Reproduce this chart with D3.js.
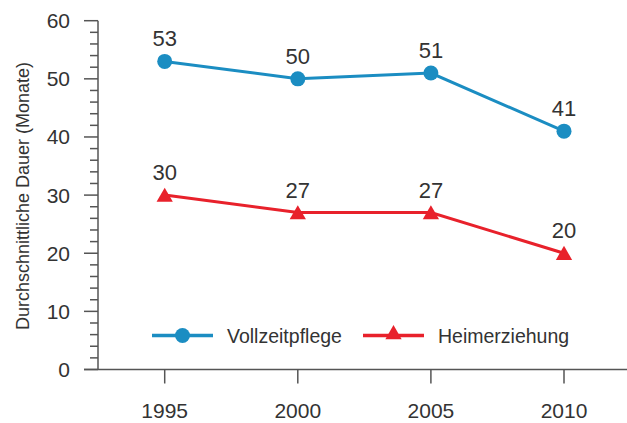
<!DOCTYPE html>
<html><head><meta charset="utf-8">
<script src="https://cdn.jsdelivr.net/npm/d3@7"></script>
<style>body{margin:0;background:#fff}svg{display:block}</style>
</head><body>
<svg id="c" width="627" height="423"></svg>
<script>
const years = [1995, 2000, 2005, 2010];
const vollzeitpflege = [53, 50, 51, 41];
const heimerziehung = [30, 27, 27, 20];
const yTicks = [0, 10, 20, 30, 40, 50, 60];
const seriesNames = ["Vollzeitpflege", "Heimerziehung"];
const colors = ["#1b8dc2", "#e8212b"];

const svg = d3.select("#c");
const font = "Liberation Sans, Arial, sans-serif";
const txt = "#333";
const axisCol = "#555";

const x = d3.scaleLinear().domain([1995, 2010]).range([164.7, 564]);
const y = d3.scaleLinear().domain([0, 60]).range([369.5, 20.7]);

// y axis
const yAx = svg.append("g").attr("transform", "translate(98,0)");
yAx.append("line").attr("x1", 0).attr("x2", 0).attr("y1", y(60)).attr("y2", y(0)).attr("stroke", axisCol).attr("stroke-width", 1.5);
d3.range(0, 61, 2).forEach(v => {
  const major = v % 10 === 0;
  yAx.append("line").attr("x1", major ? -14 : -8).attr("x2", 0).attr("y1", y(v)).attr("y2", y(v)).attr("stroke", axisCol).attr("stroke-width", 1.5);
});
yTicks.forEach(v => {
  yAx.append("text").attr("x", -28).attr("y", y(v) + 7.5).attr("text-anchor", "end")
    .attr("font-family", font).attr("font-size", 21).attr("fill", txt).text(v);
});

// x axis
svg.append("line").attr("x1", 84).attr("x2", 627).attr("y1", y(0)).attr("y2", y(0)).attr("stroke", axisCol).attr("stroke-width", 1.5);
years.forEach(yr => {
  svg.append("line").attr("x1", x(yr)).attr("x2", x(yr)).attr("y1", y(0)).attr("y2", y(0) + 14).attr("stroke", axisCol).attr("stroke-width", 1.5);
  svg.append("text").attr("x", x(yr)).attr("y", 418).attr("text-anchor", "middle")
    .attr("font-family", font).attr("font-size", 21).attr("fill", txt).text(yr);
});

// y title
svg.append("text").attr("transform", "translate(29,196) rotate(-90)").attr("text-anchor", "middle")
  .attr("font-family", font).attr("font-size", 18).attr("fill", txt).text("Durchschnittliche Dauer (Monate)");

const line = d3.line().x(d => x(d[0])).y(d => y(d[1]));
const tri = d3.symbol().type(d3.symbolTriangle).size(115);

[vollzeitpflege, heimerziehung].forEach((vals, i) => {
  const pts = years.map((yr, j) => [yr, vals[j]]);
  svg.append("path").attr("d", line(pts)).attr("fill", "none").attr("stroke", colors[i]).attr("stroke-width", 3);
  pts.forEach(p => {
    if (i === 0) {
      svg.append("circle").attr("cx", x(p[0])).attr("cy", y(p[1])).attr("r", 7.5).attr("fill", colors[i]);
    } else {
      svg.append("path").attr("d", tri()).attr("transform", `translate(${x(p[0])},${y(p[1]) + 2})`).attr("fill", colors[i]);
    }
    svg.append("text").attr("x", x(p[0])).attr("y", y(p[1]) - 15).attr("text-anchor", "middle")
      .attr("font-family", font).attr("font-size", 22).attr("fill", txt).text(p[1]);
  });
});

// legend
const legX = [152, 363];
seriesNames.forEach((n, i) => {
  const g = svg.append("g").attr("transform", `translate(${legX[i]},335.5)`);
  g.append("line").attr("x1", 0).attr("x2", 61).attr("y1", 0).attr("y2", 0).attr("stroke", colors[i]).attr("stroke-width", 3.5);
  if (i === 0) g.append("circle").attr("cx", 30.5).attr("cy", 0).attr("r", 7.5).attr("fill", colors[i]);
  else g.append("path").attr("d", tri()).attr("transform", "translate(30.5,-1)").attr("fill", colors[i]);
  g.append("text").attr("x", 75).attr("y", 7.5)
    .attr("font-family", font).attr("font-size", 19.5).attr("fill", txt).text(n);
});
</script>
</body></html>
